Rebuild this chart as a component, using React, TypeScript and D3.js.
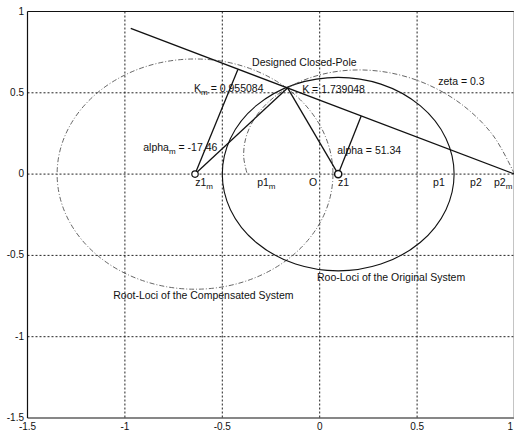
import React from 'react';
import * as d3 from 'd3';

// ---- axis ticks ----
const xTickValues = [-1.5, -1, -0.5, 0, 0.5, 1];
const xTickLabels = ['-1.5', '-1', '-0.5', '0', '0.5', '1'];
const yTickValues = [-1.5, -1, -0.5, 0, 0.5, 1];
const yTickLabels = ['-1.5', '-1', '-0.5', '0', '0.5', '1'];
const gridX = [-1, -0.5, 0, 0.5];
const gridY = [-1, -0.5, 0, 0.5];

// ---- system data (z-plane) ----
const designedPole = [-0.165, 0.53];
const zeroCompensated = [-0.64, 0]; // z1_m
const zeroOriginal = [0.095, 0]; // z1
const poleCompensatedRight = [1, 0]; // p2_m

// root loci circles: [centerX, centerY, radius]
const originalLocus = [0.095, 0, 0.595];
const compensatedLocus = [-0.64, 0, 0.708];

// constant damping curve zeta = 0.3
const zetaX = [1, 0.89, 0.734, 0.552, 0.36, 0.171, 0, -0.145, -0.259, -0.337, -0.38, -0.39, -0.372];
const zetaY = [0, 0.238, 0.424, 0.552, 0.623, 0.64, 0.61, 0.543, 0.448, 0.337, 0.219, 0.105, 0];

// angle line from p2_m through the designed pole
const angleLineStart = [-0.97, 0.896];
// construction lines
const constructionFrom = [zeroCompensated, zeroCompensated, zeroOriginal, zeroOriginal];
const constructionTo = [designedPole, [-0.42, 0.643], designedPole, [0.213, 0.358]];

// annotations: text, subscript, rest, x, y (data coords of text start / baseline)
const annText = ['Designed Closed-Pole', 'K', 'K', 'zeta = 0.3', 'alpha', 'alpha', 'Root-Loci of the Compensated System', 'Roo-Loci of the Original System'];
const annSub = ['', 'm', '', '', 'm', '', '', ''];
const annRest = ['', ' = 0.955084', ' = 1.739048', '', ' = -17.46', ' = 51.34', '', ''];
const annX = [-0.347, -0.645, -0.09, 0.608, -0.906, 0.09, -1.06, -0.014];
const annY = [0.665, 0.505, 0.499, 0.546, 0.141, 0.124, -0.768, -0.657];

// real axis labels
const axisLabText = ['z1', 'p1', 'O', 'z1', 'p1', 'p2', 'p2'];
const axisLabSub = ['m', 'm', '', '', '', '', 'm'];
const axisLabX = [-0.639, -0.321, -0.055, 0.094, 0.582, 0.772, 0.895];
const axisLabY = -0.073;

const W = 514;
const H = 433;

export default function App() {
  const x = d3.scaleLinear().domain([-1.5, 1]).range([27.5, 514.5]);
  const y = d3.scaleLinear().domain([-1.5, 1]).range([418, 11.5]);

  const zetaPts: [number, number][] = zetaX.map((v, i) => [x(v), y(zetaY[i])]);
  const zetaPath = d3.line().curve(d3.curveCatmullRom.alpha(0.5))(zetaPts) || '';

  const font = '"Liberation Sans", Arial, Helvetica, sans-serif';
  const dashDot = '5,2,1,2';

  const ellipse = (c: number[], stroke: string, dash?: string, sw = 1) => (
    <ellipse
      cx={x(c[0])}
      cy={y(c[1])}
      rx={x(c[0] + c[2]) - x(c[0])}
      ry={y(c[1]) - y(c[1] + c[2])}
      fill="none"
      stroke={stroke}
      strokeWidth={sw}
      strokeDasharray={dash}
    />
  );

  return (
    <svg
      width={W}
      height={H}
      style={{ position: 'absolute', left: 0, top: 0, background: '#fff' }}
      fontFamily={font}
    >
      <rect x={0} y={0} width={W} height={H} fill="#fff" />
      {/* grid */}
      {gridX.map((v) => (
        <line key={'gx' + v} x1={x(v)} x2={x(v)} y1={y(1)} y2={y(-1.5)} stroke="#222" strokeWidth={1} strokeDasharray="2,2" />
      ))}
      {gridY.map((v) => (
        <line key={'gy' + v} x1={x(-1.5)} x2={x(1)} y1={y(v)} y2={y(v)} stroke="#222" strokeWidth={1} strokeDasharray="2,2" />
      ))}
      {/* frame */}
      <line x1={x(-1.5)} x2={x(1)} y1={y(1)} y2={y(1)} stroke="#111" strokeWidth={1.2} />
      <line x1={x(-1.5)} x2={x(1)} y1={y(-1.5)} y2={y(-1.5)} stroke="#111" strokeWidth={1.2} />
      <line x1={x(-1.5)} x2={x(-1.5)} y1={y(1)} y2={y(-1.5)} stroke="#111" strokeWidth={1.2} />
      <line x1={x(1) - 0.5} x2={x(1) - 0.5} y1={y(1)} y2={y(-1.5)} stroke="#888" strokeWidth={1} />

      {/* tick labels */}
      {xTickValues.map((v, i) => (
        <text
          key={'xt' + v}
          x={i === xTickValues.length - 1 ? W - 1 : x(v)}
          y={430}
          fontSize={10}
          textAnchor={i === xTickValues.length - 1 ? 'end' : 'middle'}
          fill="#111"
        >
          {xTickLabels[i]}
        </text>
      ))}
      {yTickValues.map((v, i) => (
        <text key={'yt' + v} x={24} y={y(v) + 3} fontSize={10} textAnchor="end" fill="#111">
          {yTickLabels[i]}
        </text>
      ))}

      {/* root loci */}
      {ellipse(compensatedLocus, '#555', dashDot, 0.9)}
      {ellipse(originalLocus, '#111', undefined, 1.1)}
      <path d={zetaPath} fill="none" stroke="#555" strokeWidth={0.9} strokeDasharray={dashDot} />

      {/* angle line */}
      <line
        x1={x(angleLineStart[0])}
        y1={y(angleLineStart[1])}
        x2={x(poleCompensatedRight[0])}
        y2={y(poleCompensatedRight[1])}
        stroke="#111"
        strokeWidth={1.3}
      />
      {constructionFrom.map((p, i) => (
        <line
          key={'cl' + i}
          x1={x(p[0])}
          y1={y(p[1])}
          x2={x(constructionTo[i][0])}
          y2={y(constructionTo[i][1])}
          stroke="#111"
          strokeWidth={1.3}
        />
      ))}

      {/* zero markers */}
      <circle cx={x(zeroCompensated[0])} cy={y(zeroCompensated[1])} r={3.2} fill="#fff" stroke="#111" strokeWidth={1.2} />
      <circle cx={x(zeroOriginal[0])} cy={y(zeroOriginal[1])} r={3.6} fill="#fff" stroke="#111" strokeWidth={1.5} />

      {/* annotations */}
      {annText.map((t, i) => (
        <text key={'an' + i} x={x(annX[i])} y={y(annY[i])} fontSize={10.5} fill="#111">
          {t}
          {annSub[i] ? (
            <tspan fontSize={8} dy={3}>
              {annSub[i]}
            </tspan>
          ) : null}
          {annRest[i] ? <tspan dy={annSub[i] ? -3 : 0}>{annRest[i]}</tspan> : null}
        </text>
      ))}
      {axisLabText.map((t, i) => (
        <text key={'al' + i} x={x(axisLabX[i])} y={y(axisLabY)} fontSize={10.5} fill="#111">
          {t}
          {axisLabSub[i] ? (
            <tspan fontSize={8} dy={3}>
              {axisLabSub[i]}
            </tspan>
          ) : null}
        </text>
      ))}
    </svg>
  );
}
